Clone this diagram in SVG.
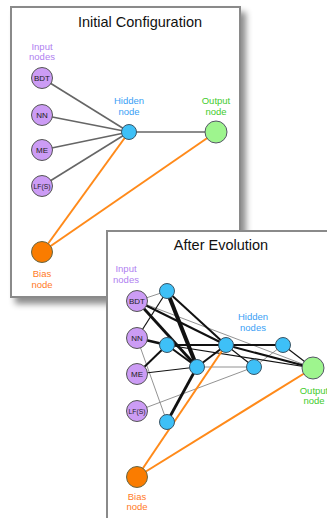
<svg xmlns="http://www.w3.org/2000/svg" width="327" height="518" viewBox="0 0 327 518">
  <defs>
    <filter id="shadow" x="-10%" y="-10%" width="130%" height="130%">
      <feDropShadow dx="5" dy="6" stdDeviation="3" flood-color="#000" flood-opacity="0.45"/>
    </filter>
    <style>
      text { font-family: "Liberation Sans", Arial, sans-serif; text-anchor: middle; }
      .title { font-size: 14.5px; fill: #111; }
      .lbl { font-size: 9.5px; }
      .lin { fill: #b07ff0; }
      .lhid { fill: #3aa0f5; }
      .lout { fill: #3fcc2e; }
      .lbias { fill: #ff7a1f; }
      .panel { fill: #fff; stroke: #8a8a8a; stroke-width: 2; }
      .in { fill: #cc9cf5; stroke: #555; stroke-width: 1; }
      .hid { fill: #3ec0f7; stroke: #3a5566; stroke-width: 1; }
      .out { fill: #9ef58e; stroke: #556; stroke-width: 1; }
      .bias { fill: #fa7c00; stroke: #664; stroke-width: 1; }
      .ntxt { font-size: 8px; fill: #222; }
      .small { font-size: 6.8px; }
      .g { stroke: #666; stroke-width: 1.6; fill: none; }
      .o { stroke: #ff8a1a; stroke-width: 2; fill: none; }
      .k1 { stroke: #111; stroke-width: 1.2; fill: none; }
      .k2 { stroke: #111; stroke-width: 2; fill: none; }
      .k3 { stroke: #111; stroke-width: 2.8; fill: none; }
      .k4 { stroke: #111; stroke-width: 4; fill: none; }
      .t { stroke: #777; stroke-width: 0.8; fill: none; }
    </style>
  </defs>

  <!-- Panel 1: initial configuration -->
  <rect class="panel" x="11" y="7" width="229" height="290" filter="url(#shadow)"/>
  <text class="title" x="140" y="27">Initial Configuration</text>
  <text class="lbl lin" x="42" y="49.5">Input</text>
  <text class="lbl lin" x="42" y="60">nodes</text>
  <text class="lbl lhid" x="129" y="104">Hidden</text>
  <text class="lbl lhid" x="129" y="115">node</text>
  <text class="lbl lout" x="216" y="104">Output</text>
  <text class="lbl lout" x="216" y="115">node</text>
  <text class="lbl lbias" x="42" y="277">Bias</text>
  <text class="lbl lbias" x="42" y="288">node</text>

  <g id="connectors-initial">
    <line class="g" x1="42" y1="78" x2="129" y2="132"/>
    <line class="g" x1="42" y1="115" x2="129" y2="132"/>
    <line class="g" x1="42" y1="150" x2="129" y2="132"/>
    <line class="g" x1="42" y1="186" x2="129" y2="132"/>
    <line class="g" x1="129" y1="132" x2="216" y2="132"/>
    <line class="o" x1="42" y1="252" x2="129" y2="132"/>
    <line class="o" x1="42" y1="252" x2="216" y2="132"/>
  </g>

  <g id="i-bdt"><circle class="in" cx="42" cy="78" r="10.5"/><text class="ntxt" x="42" y="81">BDT</text></g>
  <g id="i-nn"><circle class="in" cx="42" cy="115" r="10.5"/><text class="ntxt" x="42" y="118">NN</text></g>
  <g id="i-me"><circle class="in" cx="42" cy="150" r="10.5"/><text class="ntxt" x="42" y="153">ME</text></g>
  <g id="i-lfs"><circle class="in" cx="42" cy="186" r="10.5"/><text class="ntxt small" x="42" y="188.5">LF(S)</text></g>
  <g id="i-hidden"><circle class="hid" cx="129" cy="132" r="7.5"/></g>
  <g id="i-output"><circle class="out" cx="216" cy="132" r="11"/></g>
  <g id="i-bias"><circle class="bias" cx="42" cy="252" r="10.5"/></g>

  <!-- Panel 2: after evolution -->
  <rect class="panel" x="107" y="231" width="240" height="300"/>
  <text class="title" x="221" y="250">After Evolution</text>
  <text class="lbl lin" x="126" y="271.5">Input</text>
  <text class="lbl lin" x="126" y="282.5">nodes</text>
  <text class="lbl lhid" x="253" y="319.5">Hidden</text>
  <text class="lbl lhid" x="253" y="330.5">nodes</text>
  <text class="lbl lout" x="314" y="393.5">Output</text>
  <text class="lbl lout" x="314" y="404">node</text>
  <text class="lbl lbias" x="137" y="499.5">Bias</text>
  <text class="lbl lbias" x="137" y="510">node</text>

  <g id="connectors-evolved">
    <!-- thin grey links -->
    <line class="t" x1="137" y1="301" x2="167" y2="291"/>
    <line class="t" x1="137" y1="301" x2="313" y2="368"/>
    <line class="t" x1="137" y1="338" x2="167" y2="422"/>
    <line class="t" x1="137" y1="411" x2="254" y2="367"/>
    <line class="t" x1="197" y1="367" x2="254" y2="367"/>
    <line class="t" x1="254" y1="367" x2="283" y2="345"/>
    <!-- black links, weighted -->
    <line class="k1" x1="137" y1="338" x2="167" y2="291"/>
    <line class="k1" x1="137" y1="374" x2="197" y2="367"/>
    <line class="k1" x1="226" y1="345" x2="254" y2="367"/>
    <line class="k1" x1="283" y1="345" x2="313" y2="368"/>
    <line class="k1" x1="167" y1="345" x2="313" y2="368"/>
    <line class="k2" x1="137" y1="301" x2="226" y2="345"/>
    <line class="k2" x1="137" y1="374" x2="167" y2="345"/>
    <line class="k2" x1="167" y1="345" x2="226" y2="345"/>
    <line class="k2" x1="167" y1="345" x2="197" y2="367"/>
    <line class="k2" x1="197" y1="367" x2="226" y2="345"/>
    <line class="k2" x1="167" y1="291" x2="226" y2="345"/>
    <line class="k2" x1="226" y1="345" x2="283" y2="345"/>
    <line class="k2" x1="226" y1="345" x2="313" y2="368"/>
    <line class="k3" x1="137" y1="301" x2="197" y2="367"/>
    <line class="k3" x1="137" y1="338" x2="167" y2="345"/>
    <line class="k3" x1="167" y1="422" x2="197" y2="367"/>
    <line class="k4" x1="167" y1="291" x2="197" y2="367"/>
    <!-- bias links -->
    <line class="o" x1="137" y1="477" x2="226" y2="345"/>
    <line class="o" x1="137" y1="477" x2="313" y2="368"/>
  </g>

  <g id="e-bdt"><circle class="in" cx="137" cy="301" r="10.5"/><text class="ntxt" x="137" y="304">BDT</text></g>
  <g id="e-nn"><circle class="in" cx="137" cy="338" r="10.5"/><text class="ntxt" x="137" y="341">NN</text></g>
  <g id="e-me"><circle class="in" cx="137" cy="374" r="10.5"/><text class="ntxt" x="137" y="377">ME</text></g>
  <g id="e-lfs"><circle class="in" cx="137" cy="411" r="10.5"/><text class="ntxt small" x="137" y="413.5">LF(S)</text></g>
  <g id="e-h1"><circle class="hid" cx="167" cy="291" r="7.5"/></g>
  <g id="e-h2"><circle class="hid" cx="167" cy="345" r="7.5"/></g>
  <g id="e-h3"><circle class="hid" cx="197" cy="367" r="7.5"/></g>
  <g id="e-h4"><circle class="hid" cx="226" cy="345" r="7.5"/></g>
  <g id="e-h5"><circle class="hid" cx="283" cy="345" r="7.5"/></g>
  <g id="e-h6"><circle class="hid" cx="254" cy="367" r="7.5"/></g>
  <g id="e-h7"><circle class="hid" cx="167" cy="422" r="7.5"/></g>
  <g id="e-output"><circle class="out" cx="313" cy="368" r="11"/></g>
  <g id="e-bias"><circle class="bias" cx="137" cy="477" r="10.5"/></g>
</svg>
